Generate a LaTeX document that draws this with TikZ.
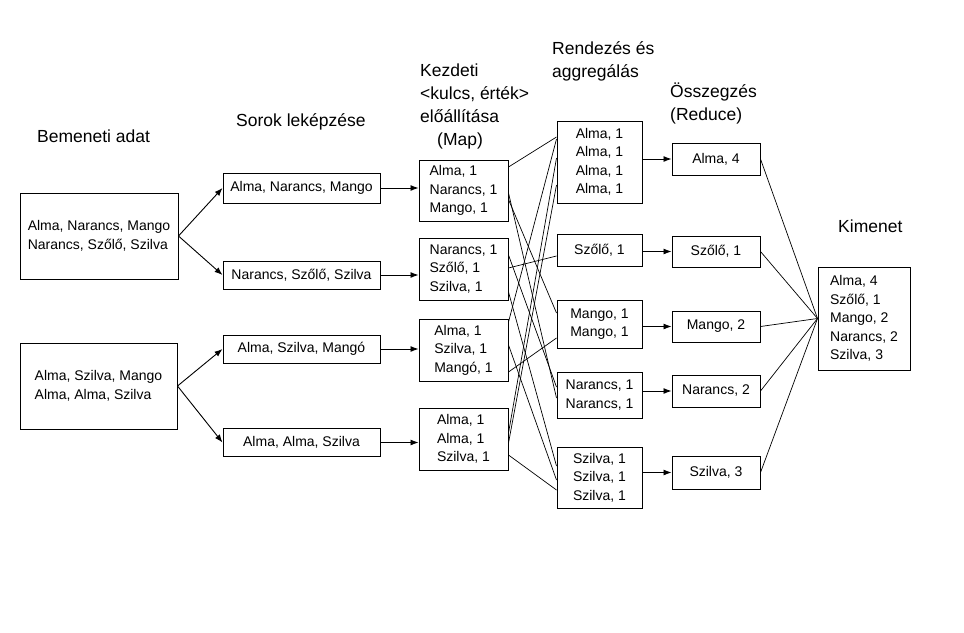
\documentclass[tikz,border=0pt]{standalone}
\usepackage{fontspec}
\setmainfont{Liberation Sans}
\usetikzlibrary{arrows.meta}
\usetikzlibrary{calc}
\tikzstyle{box}=[draw,line width=1pt,inner sep=0pt,align=center,font=\fontsize{14}{18.5}\selectfont]
\tikzstyle{leftbox}=[box,align=left]
\tikzstyle{heading}=[anchor=west,inner sep=0pt,align=left,font=\fontsize{17.5}{23}\selectfont]
\tikzstyle{edge}=[draw,line width=0.9pt,-{Latex[length=8pt,width=6pt]}]
\tikzstyle{undirectededge}=[draw,line width=0.7pt]

\begin{document}
\begin{tikzpicture}[x=1pt,y=-1pt]

  \fill[white] (0,0) rectangle (964,632);
  \useasboundingbox (0,0) rectangle (964,632);

  % column headings
  \node[heading] (hin) at (37,136) {Bemeneti adat};
  \node[heading] (hrow) at (236,122) {Sorok leképzése};
  \node[heading] (hmap) at (420,106) {Kezdeti\\<kulcs, érték>\\előállítása\\\hspace*{17pt}(Map)};
  \node[heading] (hsort) at (552,61.5) {Rendezés és\\aggregálás};
  \node[heading] (hred) at (670,103.5) {Összegzés\\(Reduce)};
  \node[heading] (hout) at (838,226) {Kimenet};

  % input, map and output boxes (left aligned text)
  \foreach \x/\y/\w/\h/\name/\label in {
      99/236/158/86/in1/{Alma, Narancs, Mango\\Narancs, Szőlő, Szilva},
      98.5/386/157/86/in2/{Alma, Szilva, Mango\\Alma, Alma, Szilva},
      463.5/190.5/89/61/m1/{Alma, 1\\Narancs, 1\\Mango, 1},
      463.5/269/89/62/m2/{Narancs, 1\\Szőlő, 1\\Szilva, 1},
      463.5/350/89/62/m3/{Alma, 1\\Szilva, 1\\Mangó, 1},
      463.5/439/89/62/m4/{Alma, 1\\Alma, 1\\Szilva, 1},
      864/318.5/92/103/out/{Alma, 4\\Szőlő, 1\\Mango, 2\\Narancs, 2\\Szilva, 3}}
    \node[leftbox,minimum width=\w pt,minimum height=\h pt] (\name) at (\x,\y) {\label};

  % rows, sorted groups and reduced values
  \foreach \x/\y/\w/\h/\name/\label in {
      301.5/188/157/30/r1/{Alma, Narancs, Mango},
      301.5/275/157/28/r2/{Narancs, Szőlő, Szilva},
      301.5/349/157/28/r3/{Alma, Szilva, Mangó},
      301.5/442.5/157/28/r4/{Alma, Alma, Szilva},
      599.5/162/85/82/s1/{Alma, 1\\Alma, 1\\Alma, 1\\Alma, 1},
      599.5/250/85/32/s2/{Szőlő, 1},
      599.5/324/85/48/s3/{Mango, 1\\Mango, 1},
      599.5/395/85/46/s4/{Narancs, 1\\Narancs, 1},
      599.5/477.5/85/61/s5/{Szilva, 1\\Szilva, 1\\Szilva, 1},
      716/159/88/32/d1/{Alma, 4},
      716/251.5/88/31/d2/{Szőlő, 1},
      716/326.5/88/31/d3/{Mango, 2},
      716/391/88/32/d4/{Narancs, 2},
      716/472.5/88/33/d5/{Szilva, 3}}
    \node[box,minimum width=\w pt,minimum height=\h pt] (\name) at (\x,\y) {\label};

  \foreach \source/\dest in {in1/r1, in1/r2, in2/r3, in2/r4}
    \path[edge] (\source.east) -- (\dest.west);

  \foreach \source/\dest in {r1/m1, r2/m2, r3/m3, r4/m4}
    \path[edge] (\source.east) -- (\source.east -| \dest.west);

  \foreach \source/\dest in {s1/d1, s2/d2, s3/d3, s4/d4, s5/d5}
    \path[edge] (\dest.west -| \source.east) -- (\dest.west);

  % shuffle: every pair goes to its group
  \foreach \source/\sy/\dest/\dy in {
      m1/23.5/s1/25, m1/-2.5/s4/-3, m1/-9/s3/11,
      m2/14/s4/8, m2/1/s2/-6, m2/-23/s5/11.5,
      m3/28/s1/23, m3/5/s5/-2.5, m3/-22/s3/-14,
      m4/6/s1/4, m4/-4/s1/-23, m4/-16/s5/-12.5}
    \path[undirectededge] ([yshift=\sy pt]\source.east) -- ([yshift=\dy pt]\dest.west);

  \foreach \source in {d1,d2,d3,d4,d5}
    \path[undirectededge] (\source.east) -- (out.west);

\end{tikzpicture}
\end{document}
